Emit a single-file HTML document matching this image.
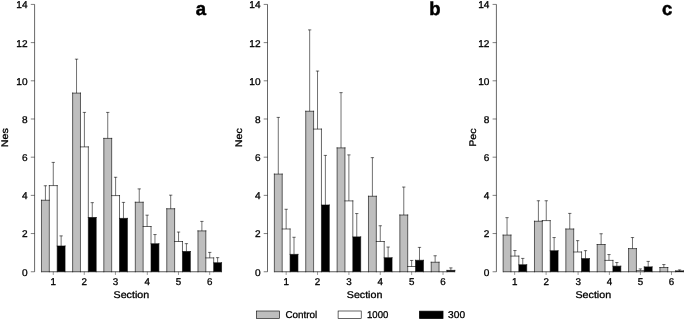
<!DOCTYPE html>
<html><head><meta charset="utf-8"><title>Figure</title>
<style>html,body{margin:0;padding:0;background:#fff}svg{display:block}text{font-family:"Liberation Sans",Arial,Helvetica,sans-serif;fill:#000;stroke:#000;stroke-width:0.3px;text-rendering:geometricPrecision}</style>
</head><body>
<svg width="685" height="320" viewBox="0 0 685 320">
<rect x="0" y="0" width="685" height="320" fill="#fff"/>
<g>
<rect x="41.48" y="200.25" width="7.86" height="71.50" fill="#bebebe"/>
<rect x="49.34" y="185.60" width="7.86" height="86.15" fill="#ffffff"/>
<rect x="57.20" y="246.00" width="7.86" height="25.75" fill="#000000"/>
<path d="M41.48 200.25H49.34M49.34 185.60H57.20M57.20 246.00H65.06M41.48 200.25V271.75M49.34 185.60V271.75M57.20 185.60V271.75M65.06 246.00V271.75" stroke="#000" stroke-width="0.6" fill="none" stroke-linecap="square"/>
<path d="M45.41 200.25V185.60M43.76 185.75H47.06" stroke="#000" stroke-width="0.56" fill="none"/>
<path d="M53.27 185.60V162.25M51.62 162.40H54.92" stroke="#000" stroke-width="0.56" fill="none"/>
<path d="M61.13 246.00V235.75M59.48 235.90H62.78" stroke="#000" stroke-width="0.56" fill="none"/>
<rect x="72.61" y="93.10" width="7.86" height="178.65" fill="#bebebe"/>
<rect x="80.47" y="146.90" width="7.86" height="124.85" fill="#ffffff"/>
<rect x="88.33" y="217.50" width="7.86" height="54.25" fill="#000000"/>
<path d="M72.61 93.10H80.47M80.47 146.90H88.33M88.33 217.50H96.19M72.61 93.10V271.75M80.47 93.10V271.75M88.33 146.90V271.75M96.19 217.50V271.75" stroke="#000" stroke-width="0.6" fill="none" stroke-linecap="square"/>
<path d="M76.54 93.10V59.00M74.89 59.15H78.19" stroke="#000" stroke-width="0.56" fill="none"/>
<path d="M84.40 146.90V112.25M82.75 112.40H86.05" stroke="#000" stroke-width="0.56" fill="none"/>
<path d="M92.26 217.50V202.50M90.61 202.65H93.91" stroke="#000" stroke-width="0.56" fill="none"/>
<rect x="103.81" y="138.40" width="7.86" height="133.35" fill="#bebebe"/>
<rect x="111.67" y="195.60" width="7.86" height="76.15" fill="#ffffff"/>
<rect x="119.53" y="218.40" width="7.86" height="53.35" fill="#000000"/>
<path d="M103.81 138.40H111.67M111.67 195.60H119.53M119.53 218.40H127.39M103.81 138.40V271.75M111.67 138.40V271.75M119.53 195.60V271.75M127.39 218.40V271.75" stroke="#000" stroke-width="0.6" fill="none" stroke-linecap="square"/>
<path d="M107.74 138.40V112.25M106.09 112.40H109.39" stroke="#000" stroke-width="0.56" fill="none"/>
<path d="M115.60 195.60V177.10M113.95 177.25H117.25" stroke="#000" stroke-width="0.56" fill="none"/>
<path d="M123.46 218.40V202.25M121.81 202.40H125.11" stroke="#000" stroke-width="0.56" fill="none"/>
<rect x="135.31" y="202.25" width="7.86" height="69.50" fill="#bebebe"/>
<rect x="143.17" y="226.50" width="7.86" height="45.25" fill="#ffffff"/>
<rect x="151.03" y="243.75" width="7.86" height="28.00" fill="#000000"/>
<path d="M135.31 202.25H143.17M143.17 226.50H151.03M151.03 243.75H158.89M135.31 202.25V271.75M143.17 202.25V271.75M151.03 226.50V271.75M158.89 243.75V271.75" stroke="#000" stroke-width="0.6" fill="none" stroke-linecap="square"/>
<path d="M139.24 202.25V188.75M137.59 188.90H140.89" stroke="#000" stroke-width="0.56" fill="none"/>
<path d="M147.10 226.50V215.00M145.45 215.15H148.75" stroke="#000" stroke-width="0.56" fill="none"/>
<path d="M154.96 243.75V234.40M153.31 234.55H156.61" stroke="#000" stroke-width="0.56" fill="none"/>
<rect x="166.76" y="208.75" width="7.86" height="63.00" fill="#bebebe"/>
<rect x="174.62" y="241.50" width="7.86" height="30.25" fill="#ffffff"/>
<rect x="182.48" y="251.50" width="7.86" height="20.25" fill="#000000"/>
<path d="M166.76 208.75H174.62M174.62 241.50H182.48M182.48 251.50H190.34M166.76 208.75V271.75M174.62 208.75V271.75M182.48 241.50V271.75M190.34 251.50V271.75" stroke="#000" stroke-width="0.6" fill="none" stroke-linecap="square"/>
<path d="M170.69 208.75V195.00M169.04 195.15H172.34" stroke="#000" stroke-width="0.56" fill="none"/>
<path d="M178.55 241.50V231.90M176.90 232.05H180.20" stroke="#000" stroke-width="0.56" fill="none"/>
<path d="M186.41 251.50V243.50M184.76 243.65H188.06" stroke="#000" stroke-width="0.56" fill="none"/>
<rect x="197.96" y="230.90" width="7.86" height="40.85" fill="#bebebe"/>
<rect x="205.82" y="257.90" width="7.86" height="13.85" fill="#ffffff"/>
<rect x="213.68" y="262.75" width="7.86" height="9.00" fill="#000000"/>
<path d="M197.96 230.90H205.82M205.82 257.90H213.68M213.68 262.75H221.54M197.96 230.90V271.75M205.82 230.90V271.75M213.68 257.90V271.75M221.54 262.75V271.75" stroke="#000" stroke-width="0.6" fill="none" stroke-linecap="square"/>
<path d="M201.89 230.90V221.25M200.24 221.40H203.54" stroke="#000" stroke-width="0.56" fill="none"/>
<path d="M209.75 257.90V252.25M208.10 252.40H211.40" stroke="#000" stroke-width="0.56" fill="none"/>
<path d="M217.61 262.75V257.50M215.96 257.65H219.26" stroke="#000" stroke-width="0.56" fill="none"/>
<path d="M41.48 271.75H221.54" stroke="#000" stroke-width="0.65" fill="none"/>
<path d="M53.27 271.75V274.95" stroke="#000" stroke-width="0.4" fill="none"/>
<text transform="translate(53.27 285.30)" font-size="9.8" text-anchor="middle">1</text>
<path d="M84.28 271.75V274.95" stroke="#000" stroke-width="0.4" fill="none"/>
<text transform="translate(84.28 285.30)" font-size="9.8" text-anchor="middle">2</text>
<path d="M115.44 271.75V274.95" stroke="#000" stroke-width="0.4" fill="none"/>
<text transform="translate(115.44 285.30)" font-size="9.8" text-anchor="middle">3</text>
<path d="M147.30 271.75V274.95" stroke="#000" stroke-width="0.4" fill="none"/>
<text transform="translate(147.30 285.30)" font-size="9.8" text-anchor="middle">4</text>
<path d="M178.48 271.75V274.95" stroke="#000" stroke-width="0.4" fill="none"/>
<text transform="translate(178.48 285.30)" font-size="9.8" text-anchor="middle">5</text>
<path d="M209.70 271.75V274.95" stroke="#000" stroke-width="0.4" fill="none"/>
<text transform="translate(209.70 285.30)" font-size="9.8" text-anchor="middle">6</text>
<text transform="translate(131.35 297.90) scale(1.09 1)" font-size="9.8" text-anchor="middle">Section</text>
<path d="M34.60 4.42V271.75" stroke="#000" stroke-width="0.6" fill="none"/>
<path d="M30.80 271.75H34.60" stroke="#000" stroke-width="0.5" fill="none"/>
<text transform="translate(27.60 275.65) scale(1.03 1)" font-size="9.8" text-anchor="end">0</text>
<path d="M30.80 233.56H34.60" stroke="#000" stroke-width="0.5" fill="none"/>
<text transform="translate(27.60 237.46) scale(1.03 1)" font-size="9.8" text-anchor="end">2</text>
<path d="M30.80 195.37H34.60" stroke="#000" stroke-width="0.5" fill="none"/>
<text transform="translate(27.60 199.27) scale(1.03 1)" font-size="9.8" text-anchor="end">4</text>
<path d="M30.80 157.18H34.60" stroke="#000" stroke-width="0.5" fill="none"/>
<text transform="translate(27.60 161.08) scale(1.03 1)" font-size="9.8" text-anchor="end">6</text>
<path d="M30.80 118.99H34.60" stroke="#000" stroke-width="0.5" fill="none"/>
<text transform="translate(27.60 122.89) scale(1.03 1)" font-size="9.8" text-anchor="end">8</text>
<path d="M30.80 80.80H34.60" stroke="#000" stroke-width="0.5" fill="none"/>
<text transform="translate(27.60 84.70) scale(1.03 1)" font-size="9.8" text-anchor="end">10</text>
<path d="M30.80 42.61H34.60" stroke="#000" stroke-width="0.5" fill="none"/>
<text transform="translate(27.60 46.51) scale(1.03 1)" font-size="9.8" text-anchor="end">12</text>
<path d="M30.80 4.42H34.60" stroke="#000" stroke-width="0.5" fill="none"/>
<text transform="translate(27.60 8.32) scale(1.03 1)" font-size="9.8" text-anchor="end">14</text>
<text transform="translate(8.10 137.60) rotate(-90) scale(1.12 1)" font-size="9.6" text-anchor="middle">Nes</text>
<text x="200.90" y="15.0" font-size="18.5" font-weight="bold" text-anchor="middle" style="stroke-width:0.5px">a</text>
</g>
<g>
<rect x="274.36" y="174.10" width="7.86" height="97.65" fill="#bebebe"/>
<rect x="282.22" y="229.00" width="7.86" height="42.75" fill="#ffffff"/>
<rect x="290.08" y="254.40" width="7.86" height="17.35" fill="#000000"/>
<path d="M274.36 174.10H282.22M282.22 229.00H290.08M290.08 254.40H297.94M274.36 174.10V271.75M282.22 174.10V271.75M290.08 229.00V271.75M297.94 254.40V271.75" stroke="#000" stroke-width="0.6" fill="none" stroke-linecap="square"/>
<path d="M278.29 174.10V117.25M276.64 117.40H279.94" stroke="#000" stroke-width="0.56" fill="none"/>
<path d="M286.15 229.00V209.10M284.50 209.25H287.80" stroke="#000" stroke-width="0.56" fill="none"/>
<path d="M294.01 254.40V237.10M292.36 237.25H295.66" stroke="#000" stroke-width="0.56" fill="none"/>
<rect x="305.73" y="111.25" width="7.86" height="160.50" fill="#bebebe"/>
<rect x="313.59" y="129.10" width="7.86" height="142.65" fill="#ffffff"/>
<rect x="321.45" y="205.00" width="7.86" height="66.75" fill="#000000"/>
<path d="M305.73 111.25H313.59M313.59 129.10H321.45M321.45 205.00H329.31M305.73 111.25V271.75M313.59 111.25V271.75M321.45 129.10V271.75M329.31 205.00V271.75" stroke="#000" stroke-width="0.6" fill="none" stroke-linecap="square"/>
<path d="M309.66 111.25V29.75M308.01 29.90H311.31" stroke="#000" stroke-width="0.56" fill="none"/>
<path d="M317.52 129.10V70.90M315.87 71.05H319.17" stroke="#000" stroke-width="0.56" fill="none"/>
<path d="M325.38 205.00V155.25M323.73 155.40H327.03" stroke="#000" stroke-width="0.56" fill="none"/>
<rect x="337.10" y="147.90" width="7.86" height="123.85" fill="#bebebe"/>
<rect x="344.96" y="200.90" width="7.86" height="70.85" fill="#ffffff"/>
<rect x="352.82" y="236.90" width="7.86" height="34.85" fill="#000000"/>
<path d="M337.10 147.90H344.96M344.96 200.90H352.82M352.82 236.90H360.68M337.10 147.90V271.75M344.96 147.90V271.75M352.82 200.90V271.75M360.68 236.90V271.75" stroke="#000" stroke-width="0.6" fill="none" stroke-linecap="square"/>
<path d="M341.03 147.90V92.50M339.38 92.65H342.68" stroke="#000" stroke-width="0.56" fill="none"/>
<path d="M348.89 200.90V154.75M347.24 154.90H350.54" stroke="#000" stroke-width="0.56" fill="none"/>
<path d="M356.75 236.90V213.40M355.10 213.55H358.40" stroke="#000" stroke-width="0.56" fill="none"/>
<rect x="368.47" y="196.25" width="7.86" height="75.50" fill="#bebebe"/>
<rect x="376.33" y="241.50" width="7.86" height="30.25" fill="#ffffff"/>
<rect x="384.19" y="257.75" width="7.86" height="14.00" fill="#000000"/>
<path d="M368.47 196.25H376.33M376.33 241.50H384.19M384.19 257.75H392.05M368.47 196.25V271.75M376.33 196.25V271.75M384.19 241.50V271.75M392.05 257.75V271.75" stroke="#000" stroke-width="0.6" fill="none" stroke-linecap="square"/>
<path d="M372.40 196.25V157.50M370.75 157.65H374.05" stroke="#000" stroke-width="0.56" fill="none"/>
<path d="M380.26 241.50V225.60M378.61 225.75H381.91" stroke="#000" stroke-width="0.56" fill="none"/>
<path d="M388.12 257.75V246.90M386.47 247.05H389.77" stroke="#000" stroke-width="0.56" fill="none"/>
<rect x="399.84" y="215.00" width="7.86" height="56.75" fill="#bebebe"/>
<rect x="407.70" y="266.50" width="7.86" height="5.25" fill="#ffffff"/>
<rect x="415.56" y="260.30" width="7.86" height="11.45" fill="#000000"/>
<path d="M399.84 215.00H407.70M407.70 266.50H415.56M415.56 260.30H423.42M399.84 215.00V271.75M407.70 215.00V271.75M415.56 260.30V271.75M423.42 260.30V271.75" stroke="#000" stroke-width="0.6" fill="none" stroke-linecap="square"/>
<path d="M403.77 215.00V186.90M402.12 187.05H405.42" stroke="#000" stroke-width="0.56" fill="none"/>
<path d="M411.63 266.50V260.30M409.98 260.45H413.28" stroke="#000" stroke-width="0.56" fill="none"/>
<path d="M419.49 260.30V247.25M417.84 247.40H421.14" stroke="#000" stroke-width="0.56" fill="none"/>
<rect x="431.21" y="262.25" width="7.86" height="9.50" fill="#bebebe"/>
<rect x="446.93" y="270.40" width="7.86" height="1.35" fill="#000000"/>
<path d="M431.21 262.25H439.07M446.93 270.40H454.79M431.21 262.25V271.75M439.07 262.25V271.75M446.93 270.40V271.75M454.79 270.40V271.75" stroke="#000" stroke-width="0.6" fill="none" stroke-linecap="square"/>
<path d="M435.14 262.25V255.60M433.49 255.75H436.79" stroke="#000" stroke-width="0.56" fill="none"/>
<path d="M450.86 270.40V267.75M449.21 267.90H452.51" stroke="#000" stroke-width="0.56" fill="none"/>
<path d="M274.36 271.75H454.79" stroke="#000" stroke-width="0.65" fill="none"/>
<path d="M286.17 271.75V274.95" stroke="#000" stroke-width="0.4" fill="none"/>
<text transform="translate(286.17 285.30)" font-size="9.8" text-anchor="middle">1</text>
<path d="M317.54 271.75V274.95" stroke="#000" stroke-width="0.4" fill="none"/>
<text transform="translate(317.54 285.30)" font-size="9.8" text-anchor="middle">2</text>
<path d="M348.91 271.75V274.95" stroke="#000" stroke-width="0.4" fill="none"/>
<text transform="translate(348.91 285.30)" font-size="9.8" text-anchor="middle">3</text>
<path d="M380.28 271.75V274.95" stroke="#000" stroke-width="0.4" fill="none"/>
<text transform="translate(380.28 285.30)" font-size="9.8" text-anchor="middle">4</text>
<path d="M411.65 271.75V274.95" stroke="#000" stroke-width="0.4" fill="none"/>
<text transform="translate(411.65 285.30)" font-size="9.8" text-anchor="middle">5</text>
<path d="M443.02 271.75V274.95" stroke="#000" stroke-width="0.4" fill="none"/>
<text transform="translate(443.02 285.30)" font-size="9.8" text-anchor="middle">6</text>
<text transform="translate(364.57 297.90) scale(1.09 1)" font-size="9.8" text-anchor="middle">Section</text>
<path d="M267.50 4.42V271.75" stroke="#000" stroke-width="0.6" fill="none"/>
<path d="M263.70 271.75H267.50" stroke="#000" stroke-width="0.5" fill="none"/>
<text transform="translate(260.50 275.65) scale(1.03 1)" font-size="9.8" text-anchor="end">0</text>
<path d="M263.70 233.56H267.50" stroke="#000" stroke-width="0.5" fill="none"/>
<text transform="translate(260.50 237.46) scale(1.03 1)" font-size="9.8" text-anchor="end">2</text>
<path d="M263.70 195.37H267.50" stroke="#000" stroke-width="0.5" fill="none"/>
<text transform="translate(260.50 199.27) scale(1.03 1)" font-size="9.8" text-anchor="end">4</text>
<path d="M263.70 157.18H267.50" stroke="#000" stroke-width="0.5" fill="none"/>
<text transform="translate(260.50 161.08) scale(1.03 1)" font-size="9.8" text-anchor="end">6</text>
<path d="M263.70 118.99H267.50" stroke="#000" stroke-width="0.5" fill="none"/>
<text transform="translate(260.50 122.89) scale(1.03 1)" font-size="9.8" text-anchor="end">8</text>
<path d="M263.70 80.80H267.50" stroke="#000" stroke-width="0.5" fill="none"/>
<text transform="translate(260.50 84.70) scale(1.03 1)" font-size="9.8" text-anchor="end">10</text>
<path d="M263.70 42.61H267.50" stroke="#000" stroke-width="0.5" fill="none"/>
<text transform="translate(260.50 46.51) scale(1.03 1)" font-size="9.8" text-anchor="end">12</text>
<path d="M263.70 4.42H267.50" stroke="#000" stroke-width="0.5" fill="none"/>
<text transform="translate(260.50 8.32) scale(1.03 1)" font-size="9.8" text-anchor="end">14</text>
<text transform="translate(242.00 137.60) rotate(-90) scale(1.12 1)" font-size="9.6" text-anchor="middle">Nec</text>
<text x="435.00" y="15.0" font-size="18.5" font-weight="bold" text-anchor="middle" style="stroke-width:0.5px">b</text>
</g>
<g>
<rect x="503.11" y="235.10" width="7.86" height="36.65" fill="#bebebe"/>
<rect x="510.97" y="256.10" width="7.86" height="15.65" fill="#ffffff"/>
<rect x="518.83" y="264.75" width="7.86" height="7.00" fill="#000000"/>
<path d="M503.11 235.10H510.97M510.97 256.10H518.83M518.83 264.75H526.69M503.11 235.10V271.75M510.97 235.10V271.75M518.83 256.10V271.75M526.69 264.75V271.75" stroke="#000" stroke-width="0.6" fill="none" stroke-linecap="square"/>
<path d="M507.04 235.10V217.50M505.39 217.65H508.69" stroke="#000" stroke-width="0.56" fill="none"/>
<path d="M514.90 256.10V250.40M513.25 250.55H516.55" stroke="#000" stroke-width="0.56" fill="none"/>
<path d="M522.76 264.75V258.25M521.11 258.40H524.41" stroke="#000" stroke-width="0.56" fill="none"/>
<rect x="534.47" y="221.25" width="7.86" height="50.50" fill="#bebebe"/>
<rect x="542.33" y="220.60" width="7.86" height="51.15" fill="#ffffff"/>
<rect x="550.19" y="250.75" width="7.86" height="21.00" fill="#000000"/>
<path d="M534.47 221.25H542.33M542.33 220.60H550.19M550.19 250.75H558.05M534.47 221.25V271.75M542.33 220.60V271.75M550.19 220.60V271.75M558.05 250.75V271.75" stroke="#000" stroke-width="0.6" fill="none" stroke-linecap="square"/>
<path d="M538.40 221.25V200.60M536.75 200.75H540.05" stroke="#000" stroke-width="0.56" fill="none"/>
<path d="M546.26 220.60V200.60M544.61 200.75H547.91" stroke="#000" stroke-width="0.56" fill="none"/>
<path d="M554.12 250.75V237.40M552.47 237.55H555.77" stroke="#000" stroke-width="0.56" fill="none"/>
<rect x="565.83" y="229.00" width="7.86" height="42.75" fill="#bebebe"/>
<rect x="573.69" y="252.00" width="7.86" height="19.75" fill="#ffffff"/>
<rect x="581.55" y="258.60" width="7.86" height="13.15" fill="#000000"/>
<path d="M565.83 229.00H573.69M573.69 252.00H581.55M581.55 258.60H589.41M565.83 229.00V271.75M573.69 229.00V271.75M581.55 252.00V271.75M589.41 258.60V271.75" stroke="#000" stroke-width="0.6" fill="none" stroke-linecap="square"/>
<path d="M569.76 229.00V213.25M568.11 213.40H571.41" stroke="#000" stroke-width="0.56" fill="none"/>
<path d="M577.62 252.00V240.50M575.97 240.65H579.27" stroke="#000" stroke-width="0.56" fill="none"/>
<path d="M585.48 258.60V250.50M583.83 250.65H587.13" stroke="#000" stroke-width="0.56" fill="none"/>
<rect x="597.19" y="244.50" width="7.86" height="27.25" fill="#bebebe"/>
<rect x="605.05" y="260.40" width="7.86" height="11.35" fill="#ffffff"/>
<rect x="612.91" y="266.20" width="7.86" height="5.55" fill="#000000"/>
<path d="M597.19 244.50H605.05M605.05 260.40H612.91M612.91 266.20H620.77M597.19 244.50V271.75M605.05 244.50V271.75M612.91 260.40V271.75M620.77 266.20V271.75" stroke="#000" stroke-width="0.6" fill="none" stroke-linecap="square"/>
<path d="M601.12 244.50V233.60M599.47 233.75H602.77" stroke="#000" stroke-width="0.56" fill="none"/>
<path d="M608.98 260.40V254.40M607.33 254.55H610.63" stroke="#000" stroke-width="0.56" fill="none"/>
<path d="M616.84 266.20V262.40M615.19 262.55H618.49" stroke="#000" stroke-width="0.56" fill="none"/>
<rect x="628.55" y="248.60" width="7.86" height="23.15" fill="#bebebe"/>
<rect x="636.41" y="270.60" width="7.86" height="1.15" fill="#ffffff"/>
<rect x="644.27" y="266.90" width="7.86" height="4.85" fill="#000000"/>
<path d="M628.55 248.60H636.41M636.41 270.60H644.27M644.27 266.90H652.13M628.55 248.60V271.75M636.41 248.60V271.75M644.27 266.90V271.75M652.13 266.90V271.75" stroke="#000" stroke-width="0.6" fill="none" stroke-linecap="square"/>
<path d="M632.48 248.60V237.40M630.83 237.55H634.13" stroke="#000" stroke-width="0.56" fill="none"/>
<path d="M640.34 270.60V268.75M638.69 268.90H641.99" stroke="#000" stroke-width="0.56" fill="none"/>
<path d="M648.20 266.90V261.25M646.55 261.40H649.85" stroke="#000" stroke-width="0.56" fill="none"/>
<rect x="659.91" y="267.50" width="7.86" height="4.25" fill="#bebebe"/>
<rect x="675.63" y="270.90" width="7.86" height="0.85" fill="#000000"/>
<path d="M659.91 267.50H667.77M675.63 270.90H683.49M659.91 267.50V271.75M667.77 267.50V271.75M675.63 270.90V271.75M683.49 270.90V271.75" stroke="#000" stroke-width="0.6" fill="none" stroke-linecap="square"/>
<path d="M663.84 267.50V264.40M662.19 264.55H665.49" stroke="#000" stroke-width="0.56" fill="none"/>
<path d="M679.56 270.90V269.75M677.91 269.90H681.21" stroke="#000" stroke-width="0.56" fill="none"/>
<path d="M503.11 271.75H683.49" stroke="#000" stroke-width="0.65" fill="none"/>
<path d="M514.67 271.75V274.95" stroke="#000" stroke-width="0.4" fill="none"/>
<text transform="translate(514.67 285.30)" font-size="9.8" text-anchor="middle">1</text>
<path d="M546.10 271.75V274.95" stroke="#000" stroke-width="0.4" fill="none"/>
<text transform="translate(546.10 285.30)" font-size="9.8" text-anchor="middle">2</text>
<path d="M578.10 271.75V274.95" stroke="#000" stroke-width="0.4" fill="none"/>
<text transform="translate(578.10 285.30)" font-size="9.8" text-anchor="middle">3</text>
<path d="M609.40 271.75V274.95" stroke="#000" stroke-width="0.4" fill="none"/>
<text transform="translate(609.40 285.30)" font-size="9.8" text-anchor="middle">4</text>
<path d="M640.40 271.75V274.95" stroke="#000" stroke-width="0.4" fill="none"/>
<text transform="translate(640.40 285.30)" font-size="9.8" text-anchor="middle">5</text>
<path d="M671.50 271.75V274.95" stroke="#000" stroke-width="0.4" fill="none"/>
<text transform="translate(671.50 285.30)" font-size="9.8" text-anchor="middle">6</text>
<text transform="translate(593.30 297.90) scale(1.09 1)" font-size="9.8" text-anchor="middle">Section</text>
<path d="M496.40 4.42V271.75" stroke="#000" stroke-width="0.6" fill="none"/>
<path d="M492.60 271.75H496.40" stroke="#000" stroke-width="0.5" fill="none"/>
<text transform="translate(489.40 275.65) scale(1.03 1)" font-size="9.8" text-anchor="end">0</text>
<path d="M492.60 233.56H496.40" stroke="#000" stroke-width="0.5" fill="none"/>
<text transform="translate(489.40 237.46) scale(1.03 1)" font-size="9.8" text-anchor="end">2</text>
<path d="M492.60 195.37H496.40" stroke="#000" stroke-width="0.5" fill="none"/>
<text transform="translate(489.40 199.27) scale(1.03 1)" font-size="9.8" text-anchor="end">4</text>
<path d="M492.60 157.18H496.40" stroke="#000" stroke-width="0.5" fill="none"/>
<text transform="translate(489.40 161.08) scale(1.03 1)" font-size="9.8" text-anchor="end">6</text>
<path d="M492.60 118.99H496.40" stroke="#000" stroke-width="0.5" fill="none"/>
<text transform="translate(489.40 122.89) scale(1.03 1)" font-size="9.8" text-anchor="end">8</text>
<path d="M492.60 80.80H496.40" stroke="#000" stroke-width="0.5" fill="none"/>
<text transform="translate(489.40 84.70) scale(1.03 1)" font-size="9.8" text-anchor="end">10</text>
<path d="M492.60 42.61H496.40" stroke="#000" stroke-width="0.5" fill="none"/>
<text transform="translate(489.40 46.51) scale(1.03 1)" font-size="9.8" text-anchor="end">12</text>
<path d="M492.60 4.42H496.40" stroke="#000" stroke-width="0.5" fill="none"/>
<text transform="translate(489.40 8.32) scale(1.03 1)" font-size="9.8" text-anchor="end">14</text>
<text transform="translate(475.80 137.60) rotate(-90) scale(1.12 1)" font-size="9.6" text-anchor="middle">Pec</text>
<text x="667.10" y="15.0" font-size="18.5" font-weight="bold" text-anchor="middle" style="stroke-width:0.5px">c</text>
</g>
<g>
<rect x="256.3" y="311" width="23.3" height="7.4" fill="#bebebe" stroke="#000" stroke-width="0.6"/>
<text transform="translate(285.40 318.00)" font-size="9.9" text-anchor="start">Control</text>
<rect x="338.1" y="311" width="23.1" height="7.4" fill="#fff" stroke="#000" stroke-width="0.6"/>
<text transform="translate(367.00 318.00) scale(0.97 1)" font-size="9.9" text-anchor="start">1000</text>
<rect x="419.6" y="311.2" width="23.4" height="7.2" fill="#000" stroke="#000" stroke-width="0.8"/>
<text transform="translate(448.10 318.00) scale(1.03 1)" font-size="9.9" text-anchor="start">300</text>
</g>
</svg>
</body></html>
